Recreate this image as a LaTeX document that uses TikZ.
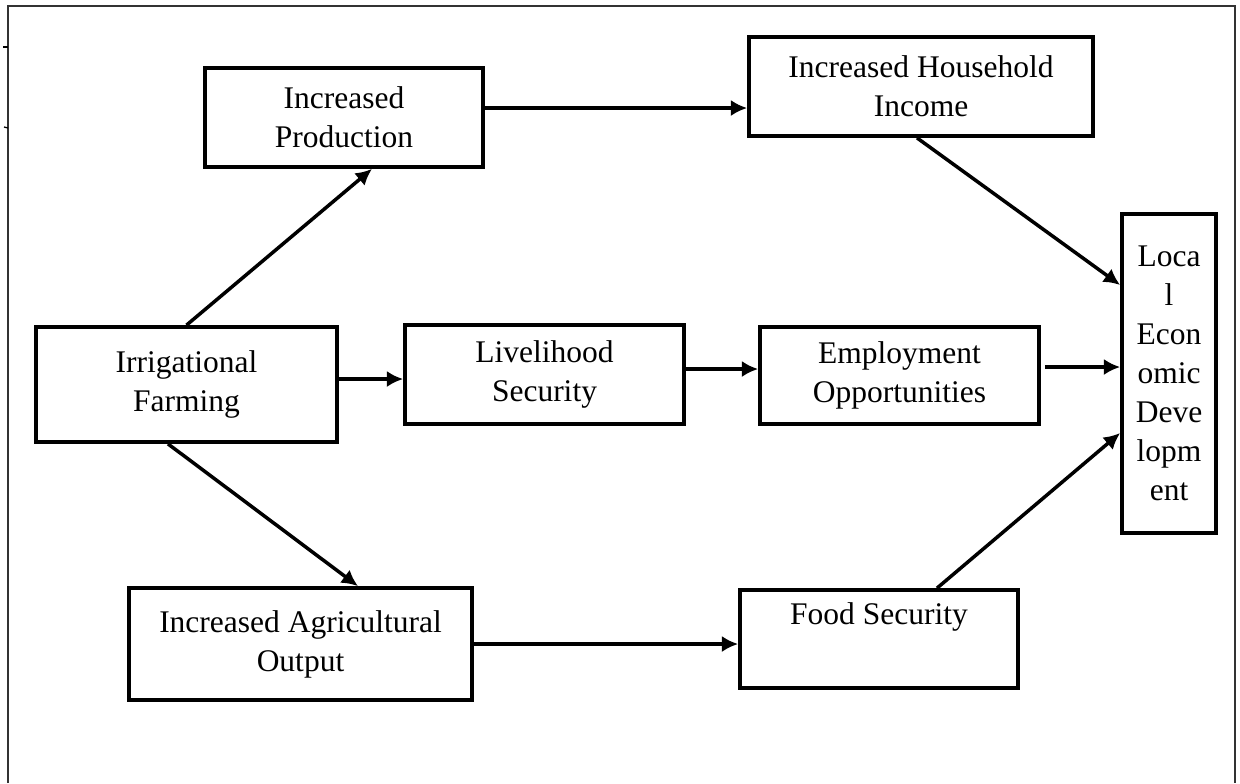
\documentclass[tikz,border=0pt]{standalone}
\usepackage{fontspec}
\setmainfont{Liberation Serif}
\usetikzlibrary{arrows.meta}
\tikzset{
  box/.style={draw, line width=1.5pt, align=center, inner sep=0pt,
    font=\fontsize{12.6}{15.6}\selectfont},
  arr/.style={line width=1.4pt, -{Latex[length=6.5pt,width=6.5pt]}},
  frame/.style={line width=0.5pt, draw=black!80}
}
\begin{document}
\begin{tikzpicture}[x=0.4pt,y=-0.4pt]
\useasboundingbox (0,0) rectangle (1240,783);
\draw[frame] (8,783) -- (8,6) -- (1235,6) -- (1235,783);
\draw[line width=0.5pt] (3,47) -- (8,47);
\draw[line width=0.5pt] (4,127) -- (8,128);

\node[box, minimum width=111.2pt, minimum height=39.6pt] (ip) at (344,117.5) {Increased\\Production};
\node[box, minimum width=137.6pt, minimum height=39.6pt] (ihi) at (921,86.5) {Increased Household\\Income};
\node[box, minimum width=37.6pt, minimum height=127.6pt] (led) at (1169,373.5) {Loca\\l\\Econ\\omic\\Deve\\lopm\\ent};
\node[box, minimum width=120.4pt, minimum height=46pt] (if) at (186.5,384.5) {Irrigational\\Farming};
\node[box, minimum width=111.6pt, minimum height=39.6pt] (liv) at (544.5,374.5) {Livelihood\\Security};
\node[box, minimum width=111.6pt, minimum height=38.8pt] (emp) at (899.5,375.5) {Employment\\Opportunities};
\node[box, minimum width=137.2pt, minimum height=44.8pt] (iao) at (300.5,644) {Increased Agricultural\\Output};
\node[box, minimum width=111.2pt, minimum height=39.2pt] (fs) at (879,639) {Food Security\\\strut};

\draw[arr] (if.north) -- ([xshift=11.2pt]ip.south);
\draw[arr] ([yshift=3.8pt]ip.east) -- ([yshift=3.8pt]ip.east -| ihi.west);
\draw[arr] ([xshift=-1.6pt]ihi.south) -- ([yshift=35.4pt]led.west);
\draw[arr] ([yshift=2.2pt]if.east) -- ([yshift=2.2pt]if.east -| liv.west);
\draw[arr] ([xshift=-7.4pt]if.south) -- ([xshift=23pt]iao.north);
\draw[arr] ([yshift=2.2pt]liv.east) -- ([yshift=2.2pt]liv.east -| emp.west);
\draw[arr] ([shift={(1.6pt,3.4pt)}]emp.east) -- ([yshift=3.4pt]emp.east -| led.west);
\draw[arr] (iao.east) -- (iao.east -| fs.west);
\draw[arr] ([xshift=23.2pt]fs.north) -- ([yshift=-23.8pt]led.west);
\end{tikzpicture}
\end{document}
